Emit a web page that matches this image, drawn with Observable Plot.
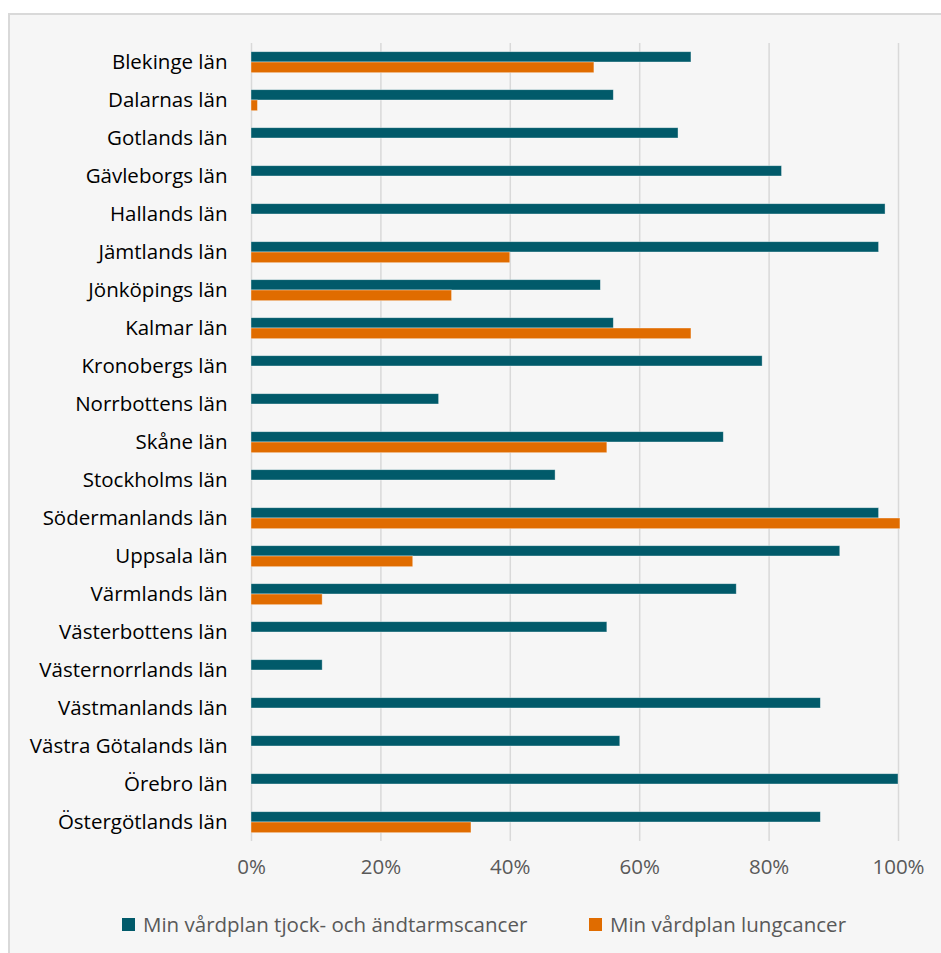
<!DOCTYPE html>
<html>
<head>
<meta charset="utf-8">
<script src="https://cdn.jsdelivr.net/npm/d3@7"></script>
<script src="https://cdn.jsdelivr.net/npm/@observablehq/plot@0.6"></script>
<style>
  html, body { margin: 0; padding: 0; background: #ffffff; }
  body { width: 941px; height: 953px; position: relative; overflow: hidden; font-family: "Open Sans", sans-serif; }
  #frame { position: absolute; left: 8px; top: 13px; width: 940px; height: 950px; background: #f6f6f6; border-left: 2px solid #d9d9d9; border-top: 2px solid #d9d9d9; box-sizing: border-box; }
  #chart { position: absolute; left: 0; top: 0; }
  #legend { position: absolute; top: 910px; left: 0; width: 941px; height: 30px; font-size: 20.5px; color: #595959; }
  .item { position: absolute; top: 0; display: flex; align-items: center; white-space: nowrap; }
  .sw { width: 13px; height: 13px; margin-right: 8px; display: inline-block; }
</style>
</head>
<body>
<div id="frame"></div>
<div id="chart"></div>
<div id="legend"></div>
<script>
const counties = [
  "Blekinge län", "Dalarnas län", "Gotlands län", "Gävleborgs län", "Hallands län",
  "Jämtlands län", "Jönköpings län", "Kalmar län", "Kronobergs län", "Norrbottens län",
  "Skåne län", "Stockholms län", "Södermanlands län", "Uppsala län", "Värmlands län",
  "Västerbottens län", "Västernorrlands län", "Västmanlands län", "Västra Götalands län",
  "Örebro län", "Östergötlands län"
];
const seriesNames = ["Min vårdplan tjock- och ändtarmscancer", "Min vårdplan lungcancer"];
const colorectal = [68, 56, 66, 82, 98, 97, 54, 56, 79, 29, 73, 47, 97, 91, 75, 55, 11, 88, 57, 100, 88];
const lung = [53, 1, null, null, null, 40, 31, 68, null, null, 55, null, 100.3, 25, 11, null, null, null, null, null, 34];
const xTicks = [0, 20, 40, 60, 80, 100];
const colors = ["#015a6a", "#e06c00"];

const dataA = counties.map((c, i) => ({county: c, value: colorectal[i]}));
const dataB = counties.map((c, i) => ({county: c, value: lung[i]})).filter(d => d.value != null);

const plot = Plot.plot({
  width: 941,
  height: 900,
  marginLeft: 251,
  marginRight: 43,
  marginTop: 43,
  marginBottom: 59,
  style: { background: "transparent", fontFamily: "'Open Sans', sans-serif", overflow: "visible" },
  x: { domain: [0, 100], axis: null },
  y: { domain: counties, axis: null, padding: 0 },
  marks: [
    Plot.ruleX(xTicks, { stroke: "#d9d9d9", strokeWidth: 1.5 }),
    Plot.barX(dataA, { x: "value", y: "county", fill: colors[0], insetTop: 8.7, insetBottom: 19, stroke: "#ffffff", strokeOpacity: 0.5, strokeWidth: 0.75 }),
    Plot.barX(dataB, { x: "value", y: "county", fill: colors[1], insetTop: 19, insetBottom: 8.3, stroke: "#ffffff", strokeOpacity: 0.5, strokeWidth: 0.75 }),
    Plot.text(counties, { x: 0, y: d => d, text: d => d, textAnchor: "end", dx: -24, fontSize: 20.5, fill: "#000000" }),
    Plot.text(xTicks, { x: d => d, text: d => d + "%", frameAnchor: "bottom", dy: 32, fontSize: 20.5, fill: "#595959" })
  ]
});
document.getElementById("chart").appendChild(plot);

const legend = document.getElementById("legend");
const lefts = [122, 589];
seriesNames.forEach((name, i) => {
  const item = document.createElement("div");
  item.className = "item";
  item.style.left = lefts[i] + "px";
  const sw = document.createElement("span");
  sw.className = "sw";
  sw.style.background = colors[i];
  const t = document.createElement("span");
  t.textContent = name;
  item.appendChild(sw);
  item.appendChild(t);
  legend.appendChild(item);
});
</script>
</body>
</html>
